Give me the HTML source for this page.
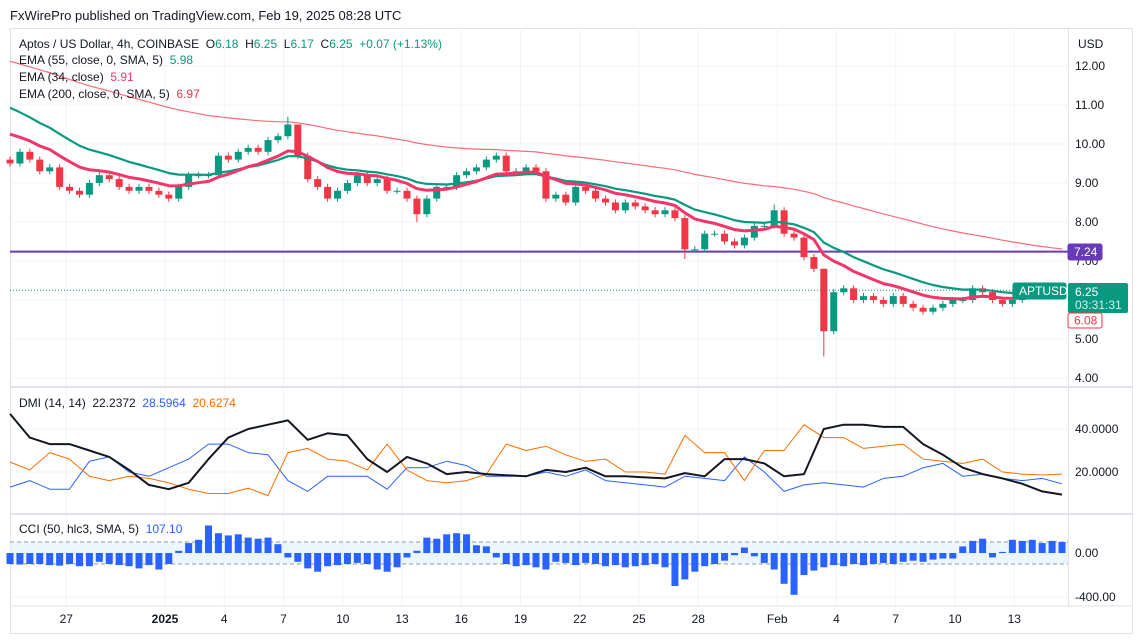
<!DOCTYPE html>
<html><head><meta charset="utf-8"><style>
body{margin:0;background:#fff;width:1143px;height:638px;overflow:hidden;font-family:"Liberation Sans",sans-serif}
svg text{font-family:"Liberation Sans",sans-serif}
.pre{white-space:pre}
</style></head><body>
<svg id="c" width="1143" height="638" xmlns="http://www.w3.org/2000/svg">
<text x="10" y="20" font-size="13" fill="#131722">FxWirePro published on TradingView.com, Feb 19, 2025 08:28 UTC</text>
<rect x="10.5" y="28.5" width="1122" height="605" fill="none" stroke="#e0e3eb"/>
<g id="grid"></g>
<g id="marks"></g>
<line x1="1068.5" y1="28" x2="1068.5" y2="606" stroke="#e0e3eb"/>
<line x1="10" y1="387" x2="1133" y2="387" stroke="#e0e3eb" stroke-width="2"/>
<line x1="10" y1="514" x2="1133" y2="514" stroke="#e0e3eb" stroke-width="2"/>
<line x1="10" y1="606" x2="1133" y2="606" stroke="#e0e3eb"/>
<text x="1078" y="48" font-size="12" fill="#131722">USD</text>
<g font-size="12">
<text class="pre" x="19" y="48" fill="#131722">Aptos / US Dollar, 4h, COINBASE  O<tspan fill="#089981">6.18</tspan>  H<tspan fill="#089981">6.25</tspan>  L<tspan fill="#089981">6.17</tspan>  C<tspan fill="#089981">6.25</tspan>  <tspan fill="#089981">+0.07 (+1.13%)</tspan></text>
<text class="pre" x="19" y="64" fill="#131722">EMA (55, close, 0, SMA, 5)  <tspan fill="#089981">5.98</tspan></text>
<text class="pre" x="19" y="81" fill="#131722">EMA (34, close)  <tspan fill="#f23669">5.91</tspan></text>
<text class="pre" x="19" y="98" fill="#131722">EMA (200, close, 0, SMA, 5)  <tspan fill="#f23645">6.97</tspan></text>
</g>
<text class="pre" x="19" y="407" font-size="12" fill="#131722">DMI (14, 14)  22.2372  <tspan fill="#2962ff">28.5964</tspan>  <tspan fill="#ff6d00">20.6274</tspan></text>
<text class="pre" x="19" y="533" font-size="12" fill="#131722">CCI (50, hlc3, SMA, 5)  <tspan fill="#2962ff">107.10</tspan></text>
<g id="labels"></g>
</svg>
<script>
const priceTicks=[12,11,10,9,8,7,6,5,4];
const priceTickLabels=["12.00","11.00","10.00","9.00","8.00","7.00","","5.00","4.00"];
const dmiTicks=[40,20];
const dmiTickLabels=["40.0000","20.0000"];
const cciTicks=[0,-400];
const cciTickLabels=["0.00","-400.00"];
const dateLabels=["27","2025","4","7","10","13","16","19","22","25","28","Feb","4","7","10","13"];
const dateDays=[3,8,11,14,17,20,23,26,29,32,35,39,42,45,48,51];
const closes=[9.5,9.8,9.6,9.3,9.4,8.9,8.8,8.7,9.0,9.2,9.1,8.9,8.8,8.9,8.8,8.7,8.6,8.9,9.2,9.2,9.2,9.7,9.6,9.8,9.9,9.8,10.1,10.2,10.5,9.7,9.1,8.9,8.6,8.8,9.0,9.2,9.0,9.1,8.8,8.8,8.6,8.2,8.6,8.9,8.9,9.2,9.3,9.4,9.6,9.7,9.3,9.3,9.4,9.3,8.6,8.7,8.5,8.9,8.8,8.6,8.5,8.3,8.5,8.4,8.3,8.2,8.3,8.1,7.3,7.3,7.7,7.7,7.5,7.4,7.6,7.9,7.9,8.3,7.7,7.6,7.1,6.8,5.2,6.2,6.3,6.0,6.1,6.0,5.9,6.1,5.9,5.8,5.7,5.8,5.9,6.0,6.0,6.3,6.2,6.0,5.9,6.0,6.1,6.1,6.2,6.2,6.25];
const highOverride={28:10.7,29:10.5,77:8.45,82:6.8};
const lowOverride={82:4.55,68:7.05,41:8.0};
const adx=[47,36,33,33,30,27,21,14,12,15,26,36,40,42,44,35,38,37,26,20,27,24,19,20,19,18.5,18,21,20,22,18,18,17.5,17,19.5,18,26,26,24,18,19,40,42,42,41,41,33,28,22,19,17,14.5,11,9.5];
const plusDI=[13,16,12,12,25,27,20,18,22,26,33,33,29,28,16,11,18,18,18,12,22,22,25,23,18,18,18,20,18,21,16,15,14,13,18,17,16,27,20,11,14,15,14,13,17,18,22,24,18,19,17,16,17,14.5];
const minusDI=[24.6,21,29,26,18,16,18,17,15,12,10,10,12.5,9,29,31,26,25,21,33,21,16,15,16,19,33,30,32,28,25,26,20,20,19,37,29,29,16,30,30,42,36,36,31,32,33,26,25,24,26,20,19,18.6,19];
const cci=[-100,-105,-100,-100,-110,-115,-100,-120,-120,-80,-100,-110,-120,-140,-110,-150,-100,20,90,120,250,180,160,170,140,130,140,80,-40,-80,-140,-170,-120,-110,-100,-90,-100,-150,-170,-130,-40,20,140,130,170,180,170,70,60,-40,-100,-120,-110,-130,-150,-80,-90,-110,-90,-100,-120,-110,-130,-120,-110,-100,-130,-300,-240,-170,-120,-100,-70,-20,50,-30,-90,-150,-280,-380,-200,-160,-130,-110,-120,-100,-110,-100,-90,-100,-80,-70,-80,-60,-50,-50,60,110,130,-40,10,120,110,120,90,110,100];
const NS="http://www.w3.org/2000/svg";
const X0=10,X1=1062;
const xHalf=i=>X0+i*(X1-X0)/(closes.length-1);
const xDay=i=>X0+i*(X1-X0)/(adx.length-1);
const yP=p=>66+(12-p)*39;
const yD=v=>515-v*2.15;
const yC=v=>553-v*0.11;
function mk(tag,attrs,parent){const e=document.createElementNS(NS,tag);for(const k in attrs)e.setAttribute(k,attrs[k]);parent.appendChild(e);return e;}
const grid=document.getElementById('grid'),marks=document.getElementById('marks'),labels=document.getElementById('labels');
priceTicks.forEach((t,i)=>{
 const l=mk('line',{x1:10,x2:1068,y1:yP(t),y2:yP(t),stroke:'#f0f3fa'},grid);
 
 
 if(priceTickLabels[i]){const tx=mk('text',{x:1075,y:yP(t)+4,'font-size':12,fill:'#131722'},labels);tx.textContent=priceTickLabels[i];
 
 }
});
dmiTicks.forEach((t,i)=>{
 const l=mk('line',{x1:10,x2:1068,y1:yD(t),y2:yD(t),stroke:'#f0f3fa'},grid);
 
 
 const tx=mk('text',{x:1075,y:yD(t)+4,'font-size':12,fill:'#131722'},labels);tx.textContent=dmiTickLabels[i];
 
 
});
cciTicks.forEach((t,i)=>{
 const l=mk('line',{x1:10,x2:1068,y1:yC(t),y2:yC(t),stroke:'#f0f3fa'},grid);
 
 
 const tx=mk('text',{x:1075,y:yC(t)+4,'font-size':12,fill:'#131722'},labels);tx.textContent=cciTickLabels[i];
 
 
});
dateLabels.forEach((d,i)=>{
 const x=X0+dateDays[i]*19.75-3;
 const l=mk('line',{x1:x,x2:x,y1:28,y2:606,stroke:'#f0f3fa'},grid);
 
 
 const tx=mk('text',{x:x,y:623,'font-size':12,fill:'#131722','text-anchor':'middle','font-weight':d==='2025'?'bold':'normal'},labels);tx.textContent=d;
 
 
});
const band=mk('rect',{x:10,y:yC(100),width:1058,height:yC(-100)-yC(100),fill:'#e3f2fd',opacity:0.7},grid);


[100,-100].forEach(v=>{const l=mk('line',{x1:10,x2:1068,y1:yC(v),y2:yC(v),stroke:'#9598a1','stroke-dasharray':'4 3'},grid);
 
 });
function ema(arr,n,seed){const k=2/(n+1);let e=seed;return arr.map(c=>(e=c*k+e*(1-k)));}
const e200=ema(closes,67,12.2),e55=ema(closes,18,11.1),e34=ema(closes,11,10.4);
function line(vals,xf,yf,attrs,name){const d=vals.map((v,i)=>(i?'L':'M')+xf(i).toFixed(1)+','+yf(v).toFixed(1)).join('');const p=mk('path',Object.assign({d:d,fill:'none','stroke-linejoin':'round'},attrs),marks);
 
 return p;}
line(e200,xHalf,yP,{stroke:'#f7525f','stroke-width':1.2,opacity:0.85},'ema-200-line');
const lv=mk('line',{x1:10,x2:1068,y1:yP(7.24),y2:yP(7.24),stroke:'#673ab7','stroke-width':2},marks);


const dl=mk('line',{x1:10,x2:1068,y1:yP(6.25),y2:yP(6.25),stroke:'#089981','stroke-dasharray':'1 2'},marks);


closes.forEach((c,i)=>{
 const o=i?closes[i-1]:c+0.1;
 const hi=highOverride[i]!==undefined?highOverride[i]:Math.max(o,c)+0.08;
 const lo=lowOverride[i]!==undefined?lowOverride[i]:Math.min(o,c)-0.08;
 const col=c>=o?'#089981':'#f23645';const x=xHalf(i);
 const w=mk('line',{x1:x,x2:x,y1:yP(hi),y2:yP(lo),stroke:col},marks);
 
 
 const b=mk('rect',{x:x-3.5,y:yP(Math.max(o,c)),width:7,height:Math.max(1,Math.abs(yP(o)-yP(c))),fill:col},marks);
 
 
});
line(e55,xHalf,yP,{stroke:'#089981','stroke-width':2.2},'ema-55-line');
line(e34,xHalf,yP,{stroke:'#f23669','stroke-width':3},'ema-34-line');
line(plusDI,xDay,yD,{stroke:'#2962ff','stroke-width':1},'dmi-plus-di-line');
line(minusDI,xDay,yD,{stroke:'#ff6d00','stroke-width':1},'dmi-minus-di-line');
line(adx,xDay,yD,{stroke:'#131722','stroke-width':2},'dmi-adx-line');
cci.forEach((v,i)=>{const x=xHalf(i);const y0=yC(0),y1=yC(v);
 const r=mk('rect',{x:x-3.5,y:Math.min(y0,y1),width:7,height:Math.max(1,Math.abs(y1-y0)),fill:'#2962ff'},marks);
 
 });
function tag(x,y,w,h,fill,stroke,txt,tc,name){const g=mk('g',{},labels);
 
 
 mk('rect',{x:x,y:y,width:w,height:h,fill:fill,stroke:stroke,rx:2},g);
 const t=mk('text',{x:x+6,y:y+h/2+4,'font-size':12,fill:tc},g);t.textContent=txt;return g;}
tag(1068,244,34,16,'#673ab7','#673ab7','7.24','#fff','level-price-tag');
tag(1013,283,53,16,'#089981','#089981','APTUSD','#fff','symbol-tag');
const cur=mk('rect',{x:1068,y:283,width:60,height:30,fill:'#089981',rx:2},labels);


const t1=mk('text',{x:1075,y:296,'font-size':12,fill:'#fff'},labels);t1.textContent='6.25';


const t2=mk('text',{x:1075,y:309,'font-size':12,fill:'#d1f0ea'},labels);t2.textContent='03:31:31';


tag(1068,313,34,15,'#fff','#f23645','6.08','#f23645','prev-close-tag');
</script>
</body></html>
